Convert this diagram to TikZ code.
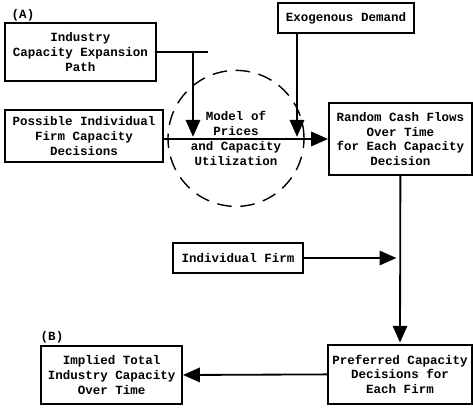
\documentclass[tikz,border=0pt]{standalone}
\usepackage{fontspec}
\setmonofont{Liberation Mono}
\usetikzlibrary{arrows.meta}

\begin{document}
\begin{tikzpicture}[
        font=\ttfamily\bfseries\fontsize{8.9}{10.6}\selectfont,
        box/.style={draw, line width=1.3pt, align=center, inner sep=2pt},
        tag/.style={inner sep=0pt},
        line/.style={draw, line width=1.3pt},
        arr/.style={line, -{Triangle[length=0.42cm,width=0.36cm]}},
    ]
    \useasboundingbox (0,0) rectangle (11.825,-10.2);

    \node[tag] (a) at (0.575,-0.38) {(A)};
    \node[box, minimum width=3.775cm, minimum height=1.45cm] (ind) at (2.01,-1.30)
        {Industry\\Capacity Expansion\\Path};
    \node[box, minimum width=3.4cm, minimum height=0.75cm] (exo) at (8.65,-0.45)
        {Exogenous Demand};
    \node[box, minimum width=3.95cm, minimum height=1.3cm] (pos) at (2.10,-3.40)
        {Possible Individual\\Firm Capacity\\Decisions};
    \node[draw, circle, dashed, dash pattern=on 0.36cm off 0.22cm, line width=1pt,
          minimum size=3.4cm, align=center, inner sep=0pt] (mdl) at (5.9,-3.46)
        {Model of\\Prices\\and Capacity\\Utilization};
    \node[box, minimum width=3.575cm, minimum height=1.8cm] (rnd) at (10.01,-3.475)
        {Random Cash Flows\\Over Time\\for Each Capacity\\Decision};
    \node[box, minimum width=3.25cm, minimum height=0.75cm] (firm) at (5.95,-6.45)
        {Individual Firm};
    \node[box, minimum width=3.6cm, minimum height=1.475cm] (pref) at (10.0,-9.36)
        {Preferred Capacity\\Decisions for\\Each Firm};
    \node[tag] (b) at (1.3,-8.43) {(B)};
    \node[box, minimum width=3.525cm, minimum height=1.45cm] (impl) at (2.79,-9.375)
        {Implied Total\\Industry Capacity\\Over Time};

    \coordinate (m1) at (4.825,-3.42);
    \coordinate (m2) at (7.425,-3.42);

    \draw[line] (ind.east) -- ++(1.28,0);
    \draw[arr] (ind.east -| m1) -- (m1);
    \draw[arr] (exo.south -| m2) -- (m2);
    \draw[arr] (pos.east |- rnd.west) -- (rnd.west);
    \draw[arr] (rnd.south) -- ([yshift=1pt]pref.north);
    \draw[arr] (firm.east) -- ([xshift=-0.1cm]firm.east -| rnd.south);
    \draw[arr] (pref.west) -- (impl.east);

\end{tikzpicture}
\end{document}
